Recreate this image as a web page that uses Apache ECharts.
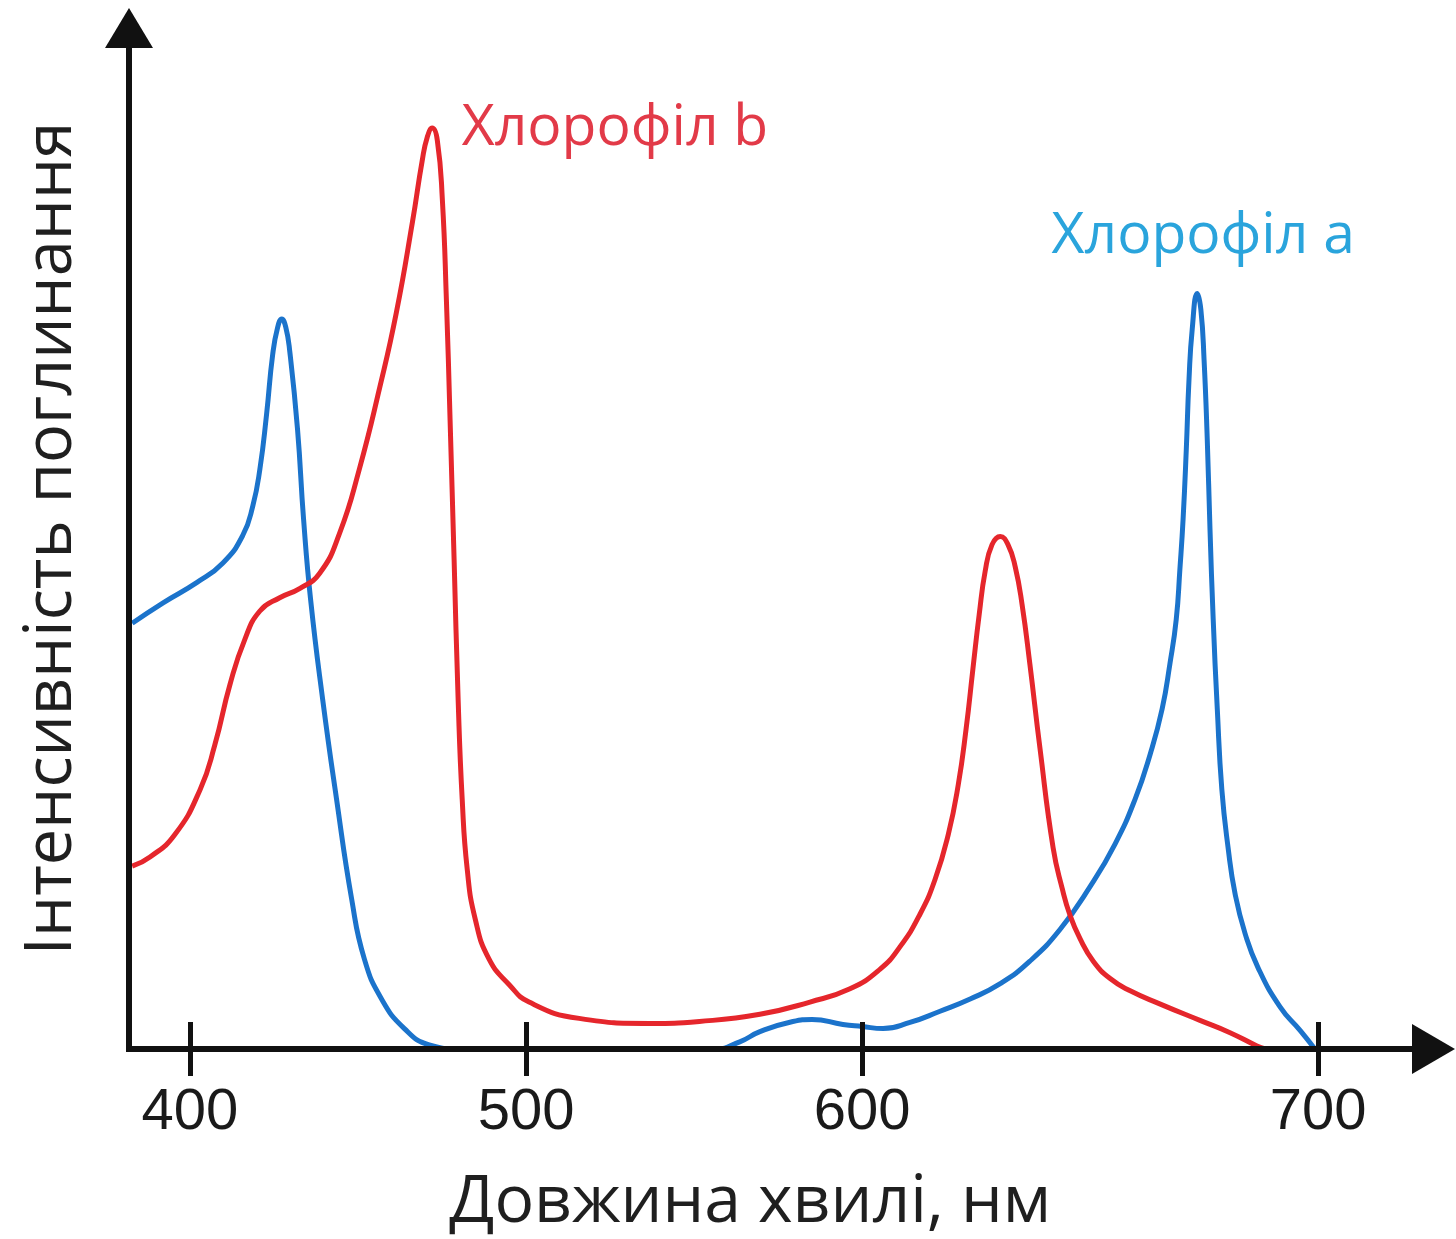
<!DOCTYPE html>
<html><head><meta charset="utf-8">
<script src="https://cdn.jsdelivr.net/npm/echarts@6/dist/echarts.min.js"></script>
<style>html,body{margin:0;padding:0;background:#fff}#c{width:1456px;height:1239px}</style>
</head><body><div id="c"></div>
<script>
// ---- tick labels (wavelength, nm) and where the picture places them on its stretched axis
const xTickLabels = ['400', '500', '600', '700'];
const xTickNm = [400, 500, 600, 700];
const xTickAxisPos = [400, 500, 600, 735.7];

// ---- Chlorophyll a (blue)
const chlANm = [382.8, 392.0, 402.1, 409.8, 415.7, 418.7, 420.8, 422.8, 424.6, 426.1, 427.3, 428.5, 429.7,
  432.0, 433.8, 435.9, 439.5, 443.6, 448.1, 451.9, 457.0, 463.8, 471.2, 480.1,
  556.1, 563.6, 569.6, 579.4, 585.1, 594.3, 600.0, 604.6, 610.5,
  617.1, 623.7, 630.3, 636.8, 643.4, 650.0, 655.5, 659.9, 663.2, 665.8, 667.5, 668.9, 669.7, 670.4, 671.1, 671.7, 672.4, 673.5,
  674.3, 675.0, 675.7, 676.3, 677.0, 677.9, 678.9, 680.3, 681.8, 684.0, 686.8, 691.7, 696.1, 699.3];
const chlAVal = [41.7, 43.7, 45.7, 47.6, 50.3, 53.2, 56.8, 62.2, 68.0, 70.7, 71.5, 70.7, 68.3,
  60.7, 51.9, 44.0, 34.2, 24.5, 14.7, 8.8, 4.9, 2.0, 0.4, 0.0,
  0.0, 0.7, 1.7, 2.7, 2.9, 2.4, 2.2, 2.0, 2.6,
  3.7, 4.9, 6.4, 8.6, 11.7, 15.9, 20.1, 24.5, 28.9, 33.3, 37.7, 42.1, 47.0, 51.9, 58.7, 65.6, 70.5, 74.0,
  72.4, 67.5, 59.7, 50.9, 42.1, 33.3, 25.4, 19.6, 15.2, 11.3, 8.0, 4.1, 1.8, 0.0];

// ---- Chlorophyll b (red)
const chlBNm = [382.8, 388.1, 395.5, 403.0, 407.4, 411.9, 416.3, 420.8, 426.7, 432.6, 438.6, 444.5, 450.4, 456.4, 461.4, 466.2, 469.1, 470.6, 472.1,
  473.6, 475.1, 476.3, 477.4, 478.6, 479.8, 481.0, 482.5, 484.9, 489.0, 495.0, 500.9,
  515.8, 536.7, 551.6, 569.6, 584.5, 596.4, 603.9,
  608.3, 612.7, 616.0, 618.9, 621.1, 622.8, 624.3, 625.7, 627.0, 628.5, 630.3, 632.0, 633.6, 635.1, 636.8,
  639.0, 641.9, 643.9, 645.6, 647.8, 650.7, 654.4, 658.8, 665.4, 674.1, 680.7, 686.6, 688.4];
const chlBVal = [17.9, 18.8, 21.0, 25.4, 29.8, 35.7, 40.1, 42.9, 44.2, 45.1, 46.6, 50.5, 56.8, 64.7, 72.1, 81.0, 87.0, 89.3, 90.2,
  89.0, 83.2, 73.4, 61.6, 47.9, 34.2, 24.5, 17.6, 12.7, 8.8, 6.3, 4.6,
  3.0, 2.5, 2.7, 3.4, 4.6, 5.9, 7.8,
  10.0, 13.2, 16.6, 21.0, 25.9, 31.3, 37.2, 42.6, 46.8, 49.4, 50.2, 49.4, 47.2, 43.5, 37.7,
  29.5, 19.7, 15.7, 13.1, 10.8, 8.6, 6.9, 5.7, 4.4, 2.8, 1.6, 0.3, 0.0];

const seriesNames = ['Хлорофіл a', 'Хлорофіл b'];
const xAxisTitle = 'Довжина хвилі, нм';
const yAxisTitle = 'Інтенсивність поглинання';

// piecewise map from wavelength to the picture's axis position (the picture's 600–700 span is wider)
function nmToPos(nm) {
  let i = 0;
  if (nm <= xTickNm[1]) i = 0;
  else if (nm >= xTickNm[xTickNm.length - 2]) i = xTickNm.length - 2;
  else { while (nm > xTickNm[i + 1]) i++; }
  const t = (nm - xTickNm[i]) / (xTickNm[i + 1] - xTickNm[i]);
  return xTickAxisPos[i] + t * (xTickAxisPos[i + 1] - xTickAxisPos[i]);
}
function build(nms, vals) { return nms.map((n, i) => [nmToPos(n), vals[i]]); }
function peak(nms, vals) {
  let k = 0; vals.forEach((v, i) => { if (v > vals[k]) k = i; });
  return [nmToPos(nms[k]), vals[k]];
}

const AX = '#111111';
const chart = echarts.init(document.getElementById('c'), null, { renderer: 'canvas' });
const tickCommon = { show: true, customValues: xTickAxisPos, length: 27, lineStyle: { color: AX, width: 5 } };

chart.setOption({
  animation: false,
  backgroundColor: '#ffffff',
  grid: { left: 129, right: 22.5, top: 28, bottom: 190, containLabel: false, outerBoundsMode: 'none' },
  xAxis: [{
    type: 'value', min: 381.85, max: 770.05, position: 'bottom', z: 10,
    axisLine: { show: true, onZero: false, symbol: ['none', 'triangle'], symbolSize: [50, 43], lineStyle: { color: AX, width: 6, cap: 'square' } },
    axisTick: Object.assign({ inside: false }, tickCommon),
    axisLabel: { show: true, customValues: xTickAxisPos, margin: 35, fontFamily: 'Liberation Sans, Arial, sans-serif', fontSize: 58, color: '#1a1a1a',
      formatter: (v, i) => xTickLabels[xTickAxisPos.indexOf(v)] ?? xTickLabels[i] },
    splitLine: { show: false },
    name: xAxisTitle, nameLocation: 'middle', nameGap: 121, nameMoveOverlap: false,
    nameTextStyle: { fontFamily: 'Open Sans', fontSize: 66, color: '#1f1f1f', padding: [0, 62, 0, 0] }
  }, {
    type: 'value', min: 381.85, max: 770.05, position: 'bottom', z: 10,
    axisLine: { show: false, onZero: false },
    axisTick: Object.assign({ inside: true }, tickCommon),
    axisLabel: { show: false }, splitLine: { show: false }
  }],
  yAxis: {
    type: 'value', min: 0, max: 100, z: 10,
    axisLine: { show: true, onZero: false, symbol: ['none', 'triangle'], symbolSize: [48, 40], lineStyle: { color: AX, width: 6, cap: 'square' } },
    axisTick: { show: false }, axisLabel: { show: false }, splitLine: { show: false },
    name: yAxisTitle, nameLocation: 'middle', nameRotate: 90, nameGap: 44, nameMoveOverlap: false,
    nameTextStyle: { fontFamily: 'Open Sans', fontSize: 65, color: '#1f1f1f' }
  },
  series: [{
    name: seriesNames[0], type: 'line', smooth: 0.5, showSymbol: false, z: 3,
    lineStyle: { color: '#1b73cb', width: 5 },
    data: build(chlANm, chlAVal),
    markPoint: { symbol: 'circle', symbolSize: 1, itemStyle: { color: 'rgba(0,0,0,0)' },
      label: { show: true, position: 'top', distance: 28, offset: [6, 0], formatter: seriesNames[0], fontFamily: 'Open Sans', fontSize: 57, color: '#2aa4dc' },
      data: [{ coord: peak(chlANm, chlAVal) }] }
  }, {
    name: seriesNames[1], type: 'line', smooth: 0.5, showSymbol: false, z: 4,
    lineStyle: { color: '#e5262c', width: 5 },
    data: build(chlBNm, chlBVal),
    markPoint: { symbol: 'circle', symbolSize: 1, itemStyle: { color: 'rgba(0,0,0,0)' },
      label: { show: true, position: 'right', distance: 29, offset: [0, 1], formatter: seriesNames[1], fontFamily: 'Open Sans', fontSize: 57, color: '#e23a48' },
      data: [{ coord: peak(chlBNm, chlBVal) }] }
  }]
});
</script></body></html>
